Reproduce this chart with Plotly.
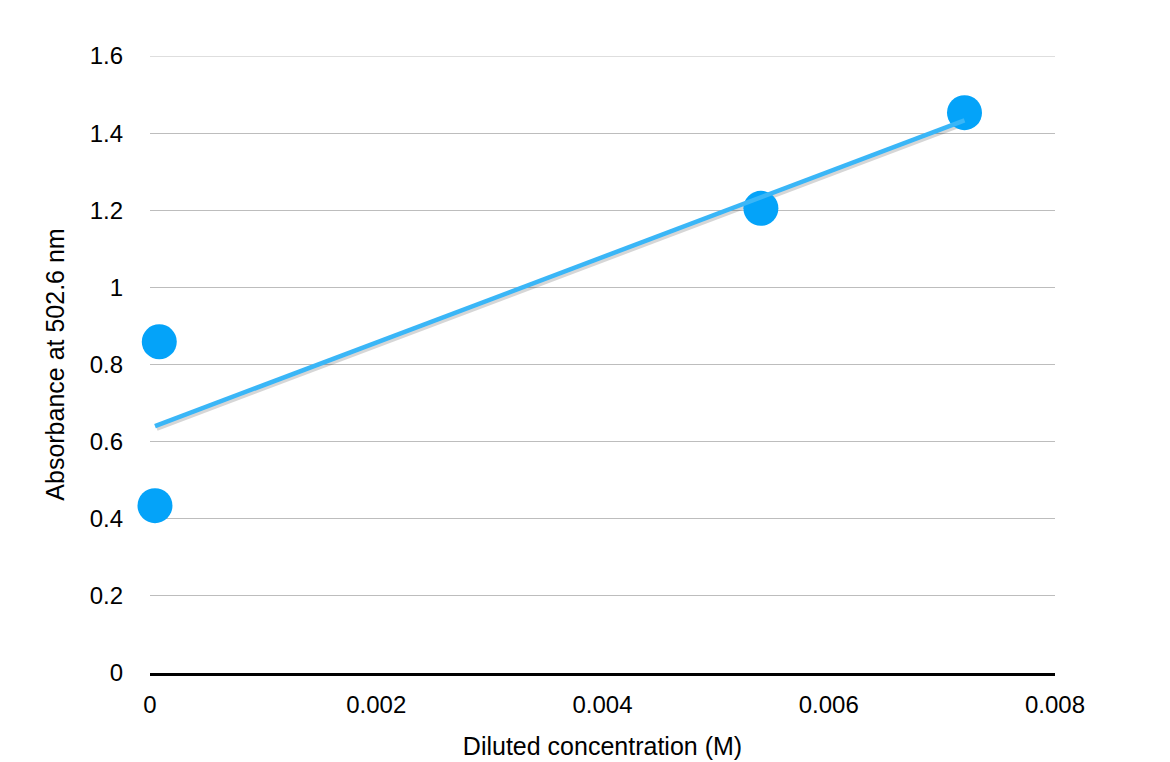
import numpy as np
import plotly.graph_objects as go

# Data
concentration = [0.000044, 0.000082, 0.0054, 0.0072]
absorbance = [0.434, 0.859, 1.205, 1.453]

y_ticks = [0, 0.2, 0.4, 0.6, 0.8, 1, 1.2, 1.4, 1.6]
y_tick_labels = ["0", "0.2", "0.4", "0.6", "0.8", "1", "1.2", "1.4", "1.6"]
x_ticks = [0, 0.002, 0.004, 0.006, 0.008]
x_tick_labels = ["0", "0.002", "0.004", "0.006", "0.008"]

# Linear trendline (least squares) across data range
slope, intercept = np.polyfit(concentration, absorbance, 1)
tx = np.array([min(concentration), max(concentration)])
ty = slope * tx + intercept

FONT = "Liberation Sans, Arial, Helvetica, sans-serif"
GRID = "#BDBDBD"

fig = go.Figure()
# soft shadow for the trendline
fig.add_trace(go.Scatter(x=tx + 0.000015, y=ty - 0.006, mode="lines",
                         line=dict(color="rgba(0,0,0,0.16)", width=5),
                         hoverinfo="skip", showlegend=False, cliponaxis=False))
fig.add_trace(go.Scatter(x=concentration, y=absorbance, mode="markers",
                         marker=dict(color="#04A3F9", size=35, line=dict(width=0)),
                         showlegend=False, cliponaxis=False))
fig.add_trace(go.Scatter(x=tx, y=ty, mode="lines",
                         line=dict(color="#3AB6F7", width=4.5),
                         showlegend=False, cliponaxis=False))

# top gridline (plotly skips gridlines on the plot edge)
fig.add_hline(y=y_ticks[-1], line=dict(color=GRID, width=1), layer="below")

fig.update_layout(
    width=1170, height=762,
    margin=dict(l=142, r=123, t=48, b=97),
    paper_bgcolor="white", plot_bgcolor="white",
    font=dict(family=FONT, size=24, color="black"),
    showlegend=False,
)
fig.update_xaxes(
    range=[0, 0.008], tickvals=x_ticks, ticktext=x_tick_labels,
    showgrid=False, zeroline=False,
    showline=True, linecolor="black", linewidth=2.5,
    ticks="", ticklabelstandoff=8,
    tickfont=dict(size=24),
    title=dict(text="Diluted concentration (M)", font=dict(size=25), standoff=21),
)
fig.update_yaxes(
    range=[0, 1.6], tickvals=y_ticks, ticktext=y_tick_labels,
    showgrid=True, gridcolor=GRID, gridwidth=1,
    zeroline=False, showline=False,
    ticks="", ticklabelstandoff=26,
    tickfont=dict(size=24),
    title=dict(text="Absorbance at 502.6 nm", font=dict(size=25), standoff=17),
)

fig.write_html("out.html")
